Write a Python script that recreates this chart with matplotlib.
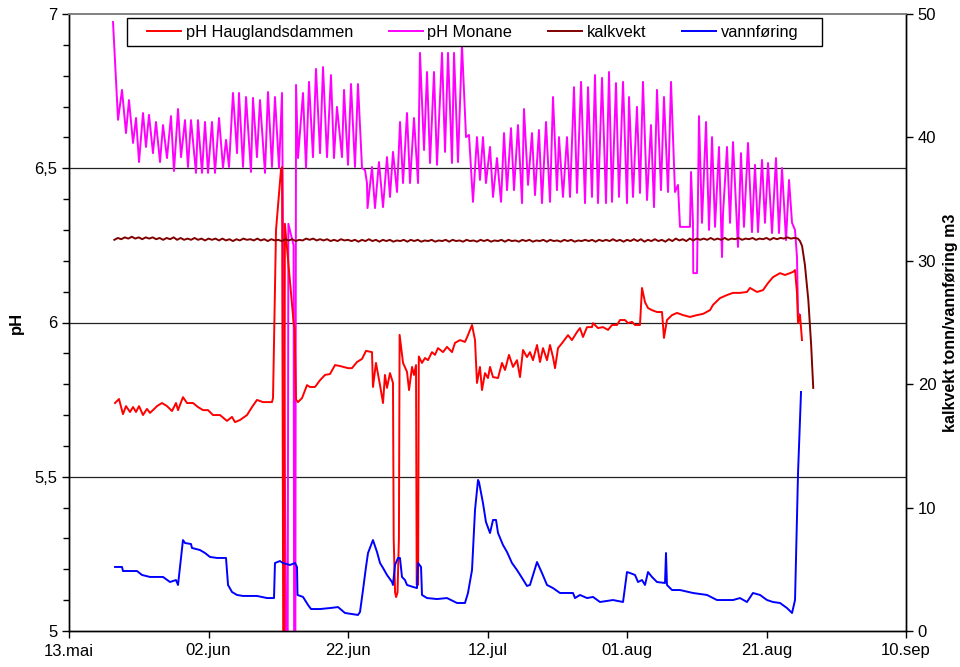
import numpy as np
import matplotlib
matplotlib.use("Agg")
import matplotlib.pyplot as plt
from matplotlib.ticker import FixedLocator, MultipleLocator, FuncFormatter
from matplotlib.patches import Rectangle

plt.rcParams['font.family'] = ['Liberation Sans', 'DejaVu Sans']

# ---------------- data (x = days after 13 May) ----------------
x_tick_days = [0, 20, 40, 60, 80, 100, 120]
x_tick_labels = ["13.mai", "02.jun", "22.jun", "12.jul", "01.aug", "21.aug", "10.sep"]

haug_day = [6.60, 7.17, 7.74, 8.17, 8.75, 9.18, 9.61, 10.04, 10.61, 11.18, 11.61, 12.04, 12.62, 13.33,
            14.05, 14.77, 15.34, 15.63, 16.34, 16.92, 17.78, 18.49, 19.21, 19.93, 20.65, 21.65, 22.65,
            23.37, 23.80, 24.52, 25.52, 26.24, 26.95, 27.81, 29.10, 29.25, 29.68, 30.39, 30.54, 30.72,
            30.86, 30.95, 32.20, 32.35, 32.55, 32.83, 33.41, 34.12, 34.55, 35.27, 35.99, 36.70, 37.42,
            38.14, 38.85, 40.00, 40.57, 41.29, 42.01, 42.58, 43.44, 43.58, 44.01, 44.59, 45.02, 45.30,
            45.59, 46.02, 46.45, 46.55, 46.75, 46.90, 47.10, 47.30, 47.40, 47.89, 48.46, 48.75, 49.18,
            49.46, 49.75, 49.85, 50.05, 50.15, 50.61, 51.04, 51.47, 52.04, 52.47, 52.90, 53.62, 54.19,
            54.91, 55.34, 56.06, 56.77, 57.20, 57.78, 58.21, 58.49, 58.92, 59.21, 59.64, 60.07, 60.36,
            60.79, 61.51, 62.08, 62.51, 63.08, 63.66, 64.23, 64.66, 65.09, 65.66, 66.09, 66.52, 67.10,
            67.53, 67.96, 68.53, 68.96, 69.39, 69.68, 70.11, 70.82, 71.54, 72.11, 72.83, 73.26, 73.69,
            74.27, 74.98, 75.13, 75.84, 76.56, 77.28, 77.85, 78.57, 79.00, 79.71, 80.14, 80.72, 81.15,
            81.86, 82.15, 82.58, 83.01, 83.58, 84.30, 85.02, 85.30, 85.73, 86.45, 87.17, 88.03, 89.03,
            90.04, 90.90, 91.90, 92.33, 93.33, 94.34, 95.20, 96.20, 97.20, 97.63, 98.64, 99.50, 100.22,
            100.93, 101.94, 102.65, 103.37, 103.80, 104.09, 104.37, 104.52, 104.80, 105.09]
haug_ph = [5.739, 5.752, 5.703, 5.729, 5.710, 5.726, 5.710, 5.729, 5.700, 5.720, 5.707, 5.716, 5.729, 5.739,
           5.729, 5.713, 5.739, 5.716, 5.758, 5.739, 5.739, 5.726, 5.716, 5.716, 5.700, 5.700, 5.681,
           5.694, 5.677, 5.684, 5.700, 5.726, 5.749, 5.742, 5.742, 5.755, 6.300, 6.494, 6.504, 4.900,
           4.900, 6.320, 6.000, 5.980, 5.750, 5.742, 5.755, 5.797, 5.791, 5.791, 5.813, 5.830, 5.833,
           5.862, 5.859, 5.852, 5.852, 5.872, 5.882, 5.908, 5.904, 5.791, 5.869, 5.797, 5.739, 5.830,
           5.788, 5.836, 5.804, 5.300, 5.125, 5.110, 5.125, 5.300, 5.960, 5.869, 5.840, 5.781, 5.856,
           5.830, 5.862, 5.150, 5.150, 5.890, 5.869, 5.885, 5.878, 5.904, 5.895, 5.917, 5.904, 5.921,
           5.904, 5.934, 5.943, 5.937, 5.959, 5.992, 5.943, 5.804, 5.856, 5.781, 5.836, 5.820, 5.856,
           5.823, 5.820, 5.869, 5.846, 5.895, 5.856, 5.878, 5.823, 5.911, 5.888, 5.904, 5.878, 5.927,
           5.872, 5.917, 5.878, 5.927, 5.888, 5.852, 5.917, 5.937, 5.959, 5.943, 5.969, 5.982, 5.953,
           5.985, 5.985, 5.998, 5.982, 5.985, 5.976, 5.992, 5.992, 6.008, 6.008, 5.998, 6.002, 5.992,
           5.992, 6.112, 6.066, 6.047, 6.040, 6.034, 6.034, 5.950, 6.008, 6.024, 6.031, 6.024, 6.018,
           6.024, 6.028, 6.040, 6.057, 6.079, 6.089, 6.096, 6.096, 6.099, 6.112, 6.099, 6.105, 6.128,
           6.147, 6.160, 6.154, 6.160, 6.164, 6.170, 6.096, 5.998, 6.024, 5.943]

monane_day = [6.31, 7.03, 7.60, 8.17, 8.60, 9.18, 9.61, 10.04, 10.61, 11.04, 11.47, 12.04, 12.47, 13.05,
              13.48, 14.05, 14.62, 15.05, 15.63, 16.06, 16.63, 17.06, 17.49, 18.21, 18.49, 19.07, 19.50,
              19.93, 20.50, 20.93, 21.51, 22.08, 22.51, 22.94, 23.51, 24.09, 24.37, 24.95, 25.38, 26.09,
              26.38, 26.95, 27.38, 28.10, 28.53, 29.10, 29.53, 30.11, 30.54, 31.15, 31.35, 31.45, 32.20,
              32.28, 32.45, 32.55, 32.83, 33.55, 33.98, 34.41, 34.98, 35.41, 35.99, 36.42, 36.99, 37.56,
              37.99, 38.42, 39.14, 39.43, 40.00, 40.43, 41.00, 41.43, 42.01, 42.44, 42.72, 42.80, 43.44,
              43.87, 44.44, 45.02, 45.59, 46.02, 46.45, 47.03, 47.46, 47.89, 48.46, 48.89, 49.46, 50.04,
              50.32, 50.90, 51.33, 51.76, 52.33, 52.76, 53.48, 53.91, 54.34, 54.91, 55.20, 55.77, 56.34,
              56.92, 57.35, 57.92, 58.49, 58.92, 59.35, 59.78, 60.36, 60.79, 61.36, 61.94, 62.37, 62.80,
              63.37, 63.80, 64.37, 64.95, 65.23, 65.81, 66.38, 66.81, 67.38, 67.81, 68.39, 68.96, 69.39,
              69.96, 70.25, 70.82, 71.40, 71.83, 72.40, 72.83, 73.41, 73.98, 74.41, 74.98, 75.41, 75.84,
              76.42, 76.99, 77.42, 77.85, 78.42, 78.85, 79.43, 80.00, 80.29, 80.86, 81.43, 81.86, 82.29,
              82.87, 83.44, 83.87, 84.30, 84.87, 85.30, 85.88, 86.31, 86.88, 87.31, 87.60, 89.03, 89.18,
              89.46, 89.50, 90.04, 90.32, 90.75, 91.33, 91.76, 92.19, 92.62, 93.19, 93.62, 93.76, 94.34,
              94.77, 95.20, 95.91, 96.34, 96.77, 97.35, 97.92, 98.35, 98.78, 99.36, 99.78, 100.22, 100.79,
              101.36, 101.79, 102.22, 102.80, 103.23, 103.66, 104.09, 104.37, 104.52, 104.80]
monane_ph = [6.974, 6.657, 6.754, 6.614, 6.721, 6.582, 6.663, 6.520, 6.679, 6.569, 6.673, 6.549, 6.650, 6.520,
             6.640, 6.533, 6.669, 6.491, 6.692, 6.536, 6.656, 6.504, 6.656, 6.485, 6.656, 6.485, 6.650,
             6.485, 6.650, 6.485, 6.663, 6.501, 6.592, 6.504, 6.744, 6.549, 6.744, 6.504, 6.731, 6.488,
             6.728, 6.536, 6.721, 6.485, 6.747, 6.504, 6.731, 6.501, 6.744, 4.900, 4.900, 6.320, 6.250,
             4.900, 4.900, 6.770, 6.533, 6.744, 6.501, 6.780, 6.536, 6.822, 6.549, 6.828, 6.536, 6.802,
             6.533, 6.699, 6.536, 6.754, 6.511, 6.773, 6.504, 6.773, 6.501, 6.494, 6.452, 6.371, 6.504,
             6.371, 6.520, 6.374, 6.536, 6.407, 6.553, 6.423, 6.650, 6.452, 6.679, 6.452, 6.663, 6.452,
             6.874, 6.559, 6.812, 6.517, 6.812, 6.511, 6.874, 6.553, 6.874, 6.517, 6.874, 6.520, 6.900,
             6.601, 6.608, 6.391, 6.601, 6.462, 6.601, 6.452, 6.569, 6.407, 6.533, 6.391, 6.614, 6.429,
             6.630, 6.429, 6.640, 6.387, 6.692, 6.446, 6.614, 6.413, 6.624, 6.387, 6.650, 6.391, 6.731,
             6.429, 6.601, 6.407, 6.601, 6.407, 6.763, 6.420, 6.780, 6.387, 6.763, 6.407, 6.802, 6.387,
             6.793, 6.387, 6.812, 6.391, 6.776, 6.407, 6.780, 6.387, 6.731, 6.407, 6.699, 6.420, 6.780,
             6.397, 6.640, 6.374, 6.754, 6.429, 6.731, 6.423, 6.780, 6.423, 6.446, 6.310, 6.310, 6.488,
             6.323, 6.160, 6.160, 6.669, 6.323, 6.650, 6.300, 6.601, 6.310, 6.569, 6.212, 6.350, 6.569,
             6.323, 6.585, 6.245, 6.549, 6.310, 6.582, 6.293, 6.511, 6.293, 6.527, 6.323, 6.517, 6.290,
             6.533, 6.290, 6.501, 6.267, 6.462, 6.323, 6.300, 6.212, 6.031, 6.024]

# kalkvekt sampled every half day from day 6.5 to 104.5, then the final drop
kalk_start, kalk_step = 6.5, 0.5
kalk_val = [31.70, 31.85, 31.75, 31.90, 31.80, 31.95, 31.80, 31.90, 31.75, 31.90,
            31.80, 31.90, 31.75, 31.85, 31.70, 31.85, 31.75, 31.90, 31.70, 31.85,
            31.70, 31.80, 31.70, 31.85, 31.70, 31.80, 31.65, 31.80, 31.70, 31.80,
            31.65, 31.80, 31.65, 31.75, 31.60, 31.75, 31.65, 31.80, 31.70, 31.75,
            31.65, 31.80, 31.65, 31.75, 31.60, 31.75, 31.65, 31.70, 31.60, 31.75,
            31.65, 31.75, 31.60, 31.70, 31.65, 31.80, 31.70, 31.80, 31.65, 31.75,
            31.65, 31.75, 31.60, 31.70, 31.60, 31.75, 31.65, 31.70, 31.60, 31.70,
            31.55, 31.70, 31.60, 31.75, 31.60, 31.70, 31.55, 31.70, 31.60, 31.70,
            31.55, 31.65, 31.60, 31.70, 31.55, 31.70, 31.60, 31.70, 31.55, 31.65,
            31.60, 31.70, 31.55, 31.65, 31.60, 31.70, 31.55, 31.70, 31.60, 31.65,
            31.55, 31.70, 31.60, 31.65, 31.55, 31.70, 31.60, 31.70, 31.55, 31.65,
            31.60, 31.70, 31.55, 31.70, 31.60, 31.65, 31.55, 31.70, 31.60, 31.70,
            31.55, 31.65, 31.60, 31.70, 31.55, 31.70, 31.60, 31.65, 31.55, 31.70,
            31.60, 31.70, 31.55, 31.65, 31.60, 31.70, 31.60, 31.70, 31.55, 31.70,
            31.60, 31.70, 31.60, 31.75, 31.60, 31.70, 31.55, 31.70, 31.60, 31.75,
            31.60, 31.75, 31.55, 31.70, 31.60, 31.75, 31.60, 31.70, 31.55, 31.75,
            31.60, 31.80, 31.65, 31.75, 31.60, 31.80, 31.65, 31.80, 31.70, 31.80,
            31.70, 31.85, 31.70, 31.80, 31.70, 31.85, 31.70, 31.80, 31.75, 31.85,
            31.70, 31.80, 31.75, 31.85, 31.70, 31.80, 31.75, 31.85, 31.70, 31.85,
            31.75, 31.85, 31.80, 31.90, 31.80, 31.85, 31.80]
kalk_drop_day = [104.8, 105.1, 105.5, 106.0, 106.4, 106.7]
kalk_drop_val = [31.6, 31.2, 29.7, 26.8, 23.2, 19.7]

vann_day = [6.60, 7.60, 7.74, 8.75, 9.75, 10.47, 11.61, 13.48, 14.48, 15.34, 15.63, 16.34, 16.63, 17.49,
            17.63, 18.78, 19.50, 20.22, 21.22, 22.51, 22.80, 23.37, 24.09, 24.95, 26.95, 28.39, 29.39,
            29.53, 30.25, 30.68, 31.68, 32.40, 32.69, 32.76, 33.55, 34.27, 34.70, 35.99, 37.42, 38.57,
            39.57, 41.43, 41.72, 42.15, 42.58, 42.87, 43.58, 44.16, 44.59, 45.02, 45.59, 46.31, 46.45,
            46.74, 47.17, 47.45, 47.74, 48.17, 48.46, 49.32, 49.89, 50.04, 50.47, 50.61, 51.33, 52.76,
            54.19, 55.63, 56.77, 57.20, 57.78, 58.21, 58.64, 58.78, 59.35, 59.78, 60.36, 60.79, 61.22,
            61.51, 62.22, 62.80, 63.51, 64.23, 64.95, 65.66, 66.09, 67.10, 67.81, 68.53, 69.39, 70.39,
            72.26, 72.54, 73.26, 74.27, 75.13, 76.13, 77.99, 79.43, 80.00, 80.43, 81.15, 81.58, 82.15,
            82.58, 83.01, 83.58, 84.30, 85.45, 85.59, 85.73, 86.45, 87.60, 89.46, 91.47, 92.90, 95.20,
            96.20, 97.20, 98.06, 99.07, 100.07, 100.93, 101.94, 102.94, 103.66, 104.09, 104.52, 104.95]
vann_val = [5.19, 5.19, 4.86, 4.86, 4.86, 4.54, 4.38, 4.38, 3.97, 4.13, 3.73, 7.37, 7.13, 7.05,
            6.73, 6.56, 6.32, 6.00, 5.92, 5.92, 3.73, 3.16, 2.92, 2.84, 2.84, 2.67, 2.67,
            5.51, 5.67, 5.51, 5.35, 5.51, 5.19, 2.92, 2.76, 2.11, 1.78, 1.78, 1.86, 1.94,
            1.46, 1.30, 1.54, 3.32, 5.19, 6.32, 7.37, 6.40, 5.51, 5.11, 4.54, 3.97, 3.73,
            5.35, 5.92, 5.92, 4.38, 4.13, 3.73, 3.57, 3.48, 5.51, 5.19, 2.92, 2.67, 2.59,
            2.67, 2.27, 2.27, 3.08, 4.94, 9.81, 12.24, 12.07, 10.37, 8.83, 7.94, 9.00, 9.00,
            7.94, 6.97, 6.40, 5.51, 4.94, 4.30, 3.65, 3.73, 5.59, 4.70, 3.73, 3.48, 3.08,
            3.08, 2.67, 2.92, 2.67, 2.76, 2.35, 2.51, 2.35, 4.78, 4.70, 4.54, 3.97, 4.13,
            3.73, 4.78, 4.38, 3.97, 3.89, 6.32, 3.73, 3.32, 3.32, 3.08, 2.92, 2.51, 2.51,
            2.67, 2.35, 3.08, 2.92, 2.51, 2.35, 2.27, 1.86, 1.46, 2.51, 12.80, 19.37]

series_names = ["pH Hauglandsdammen", "pH Monane", "kalkvekt", "vannføring"]
series_colors = ["#FF0000", "#FF00FF", "#800000", "#0000FF"]

# ---------------- figure ----------------
fig = plt.figure(figsize=(9.6, 6.67), dpi=100)
ax = fig.add_axes([69 / 960, 36 / 667, 837 / 960, 617 / 667])
ax2 = ax.twinx()

lw = 1.4
l2, = ax.plot(monane_day, monane_ph, color=series_colors[1], lw=lw, label=series_names[1], zorder=3)
l1, = ax.plot(haug_day, haug_ph, color=series_colors[0], lw=lw, label=series_names[0], zorder=4)

kalk_day_all = list(kalk_start + kalk_step * np.arange(len(kalk_val))) + kalk_drop_day
kalk_val_all = kalk_val + kalk_drop_val
l3, = ax2.plot(kalk_day_all, kalk_val_all, color=series_colors[2], lw=lw, label=series_names[2])
l4, = ax2.plot(vann_day, vann_val, color=series_colors[3], lw=lw, label=series_names[3])

# left axis
ax.set_xlim(0, 120)
ax.set_ylim(5, 7)
ax.yaxis.set_major_locator(MultipleLocator(0.5))
ax.yaxis.set_minor_locator(MultipleLocator(0.1))
ax.yaxis.set_major_formatter(FuncFormatter(lambda v, p: ("%g" % v).replace(".", ",")))
for yv in [5.5, 6.0, 6.5]:
    ax.axhline(yv, color="#222222", lw=0.9, zorder=1)

ax.xaxis.set_major_locator(FixedLocator(x_tick_days))
ax.set_xticklabels(x_tick_labels)

ax2.set_ylim(0, 50)
ax2.yaxis.set_major_locator(MultipleLocator(10))

tick_fs = 12
ax.tick_params(axis="both", which="major", direction="out", length=5, width=1, labelsize=tick_fs, colors="black")
ax.tick_params(axis="y", which="minor", direction="out", length=4, width=1)
ax.tick_params(axis="x", pad=4)
ax2.tick_params(axis="y", which="major", direction="out", length=5, width=1, labelsize=tick_fs)

for a in (ax, ax2):
    for s in ("left", "right", "bottom"):
        a.spines[s].set_color("black")
        a.spines[s].set_linewidth(1)
    a.spines["top"].set_color("#808080")
    a.spines["top"].set_linewidth(1.2)

ax.set_ylabel("pH", fontsize=12, fontweight="bold")
ax.yaxis.set_label_coords(-0.054, 0.5)
ax2.set_ylabel("kalkvekt tonn/vannføring m3", fontsize=11.5, fontweight="bold")
ax2.yaxis.set_label_coords(1.044, 0.5)

# legend box drawn separately so its padding matches the reference
box = Rectangle((0.0693, 0.948), 0.8303, 0.0455, transform=ax2.transAxes,
                facecolor="white", edgecolor="black", lw=1, zorder=9, clip_on=False)
ax2.add_patch(box)
leg = ax2.legend([l1, l2, l3, l4], series_names, ncol=4, loc="center left",
                 bbox_to_anchor=(0.0932, 0.9708), frameon=False,
                 fontsize=11.8, handlelength=2.05, handletextpad=0.3, columnspacing=2.2,
                 borderaxespad=0, borderpad=0)
leg.set_zorder(10)

fig.savefig("out.png", dpi=100)
